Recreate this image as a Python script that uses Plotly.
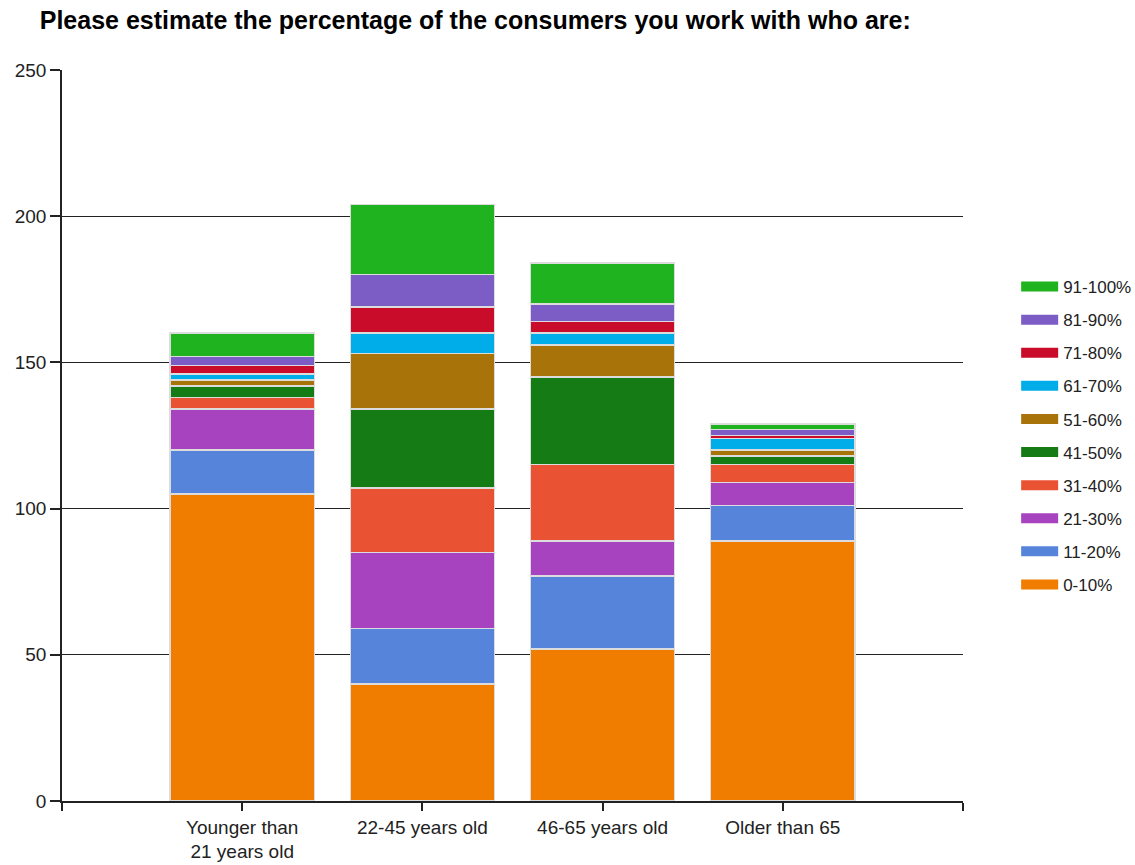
import plotly.graph_objects as go

# Age groups (x categories)
age_groups = ["Younger than<br>21 years old", "22-45 years old", "46-65 years old", "Older than 65"]

# Percentage bands, bottom of the stack first
bands = ["0-10%", "11-20%", "21-30%", "31-40%", "41-50%",
         "51-60%", "61-70%", "71-80%", "81-90%", "91-100%"]

# Number of responses per band for each age group
v_0_10 = [105, 40, 52, 89]
v_11_20 = [15, 19, 25, 12]
v_21_30 = [14, 26, 12, 8]
v_31_40 = [4, 22, 26, 6]
v_41_50 = [4, 27, 30, 3]
v_51_60 = [2, 19, 11, 2]
v_61_70 = [2, 7, 4, 4]
v_71_80 = [3, 9, 4, 1]
v_81_90 = [3, 11, 6, 2]
v_91_100 = [8, 24, 14, 2]

series = [v_0_10, v_11_20, v_21_30, v_31_40, v_41_50,
          v_51_60, v_61_70, v_71_80, v_81_90, v_91_100]

colors = ["#F07C00", "#5584DA", "#A743BF", "#EA5234", "#157C15",
          "#A8740A", "#00ADE8", "#C90C2A", "#7C5DC6", "#1FB41F"]

x_pos = list(range(len(age_groups)))

fig = go.Figure()

for name, vals, col in zip(bands, series, colors):
    fig.add_trace(go.Bar(
        x=x_pos, y=vals, name=name,
        marker=dict(color=col, line=dict(color="#DCDCDC", width=1.5)),
        width=0.8, showlegend=False,
    ))

# Wide swatches for the legend entries, top band listed first
for name, col in reversed(list(zip(bands, colors))):
    fig.add_trace(go.Scatter(
        x=[None], y=[None], mode="lines", name=name,
        line=dict(color=col, width=13), legendgroup=name,
    ))

fig.update_layout(
    barmode="stack",
    width=1135, height=865,
    paper_bgcolor="white", plot_bgcolor="white",
    margin=dict(l=62, r=172, t=70, b=64, autoexpand=False),
    font=dict(family="Liberation Sans, Arial, sans-serif", size=19, color="#222222"),
    title=dict(
        text="<b>Please estimate the percentage of the consumers you work with who are:</b>",
        x=0.035, xanchor="left", y=0.977, yanchor="middle",
        font=dict(size=25, color="#000000"),
    ),
    xaxis=dict(
        range=[-1, 4], tickmode="array",
        tickvals=[-1] + x_pos + [4], ticktext=[""] + age_groups + [""],
        ticks="outside", ticklen=8, tickwidth=1.5, tickcolor="#222222",
        showline=True, linecolor="#222222", linewidth=1.5,
        showgrid=False, zeroline=False, fixedrange=True, automargin=False,
        tickfont=dict(size=19),
    ),
    yaxis=dict(
        range=[0, 250], tickmode="array", tickvals=[0, 50, 100, 150, 200, 250],
        ticks="outside", ticklen=10, tickwidth=1.5, tickcolor="#222222",
        showline=True, linecolor="#222222", linewidth=1.5,
        showgrid=True, gridcolor="#222222", gridwidth=1.2, zeroline=False,
        automargin=False, tickfont=dict(size=19),
    ),
    legend=dict(
        x=1.059, xanchor="left", y=0.5, yanchor="middle",
        traceorder="grouped", tracegroupgap=8,
        font=dict(size=17), itemwidth=37,
        bgcolor="rgba(0,0,0,0)",
    ),
)

fig.write_html("out.html")
